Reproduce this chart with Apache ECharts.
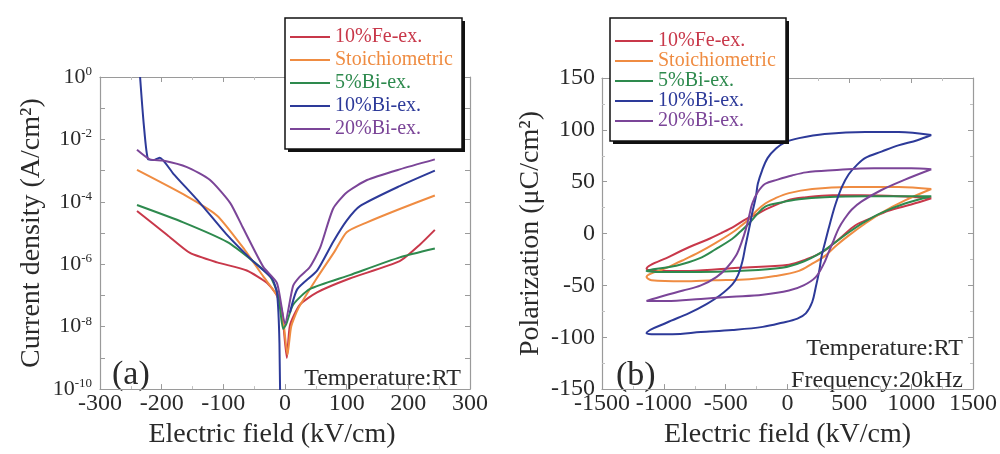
<!DOCTYPE html>
<html><head><meta charset="utf-8">
<script src="https://cdn.jsdelivr.net/npm/echarts@6/dist/echarts.min.js"></script>
<style>html,body{margin:0;padding:0;background:#fff}#c{width:1000px;height:454px}</style>
</head><body><div id="c"></div>
<script>
const seriesNames = ['10%Fe-ex.', 'Stoichiometric', '5%Bi-ex.', '10%Bi-ex.', '20%Bi-ex.'];
const colors = ['#c8384a', '#ef8c42', '#2e8a4e', '#2d3a99', '#7b4598'];

// ---- Panel (a): current density (A/cm^2) vs electric field (kV/cm) ----
const jxFe = [-240, -191, -154, -110, -62, -29, -13, -5, 3, 8, 24, 52, 105, 186, 219, 243];
const jyFe = [5.1e-5, 8.7e-6, 2.3e-6, 1.15e-6, 6.3e-7, 2.5e-7, 1.0e-7, 3.2e-8, 1.0e-9, 1.1e-8, 5.0e-8, 1.26e-7, 3.5e-7, 1.26e-6, 4.3e-6, 1.26e-5];
const jxSt = [-240, -159, -110, -68, -35, -13, -4, 4, 10, 22, 50, 80, 100, 133, 186, 243];
const jySt = [1.05e-3, 1.5e-4, 3.6e-5, 3.4e-6, 4.0e-7, 1.0e-7, 2.5e-8, 1.26e-9, 1.0e-8, 4.0e-8, 3.2e-7, 2.5e-6, 1.07e-5, 2.2e-5, 5.9e-5, 1.6e-4];
const jxBi5 = [-240, -165, -94, -52, -24, -11, -3, 2, 13, 40, 105, 186, 243];
const jyBi5 = [7.9e-5, 2.2e-5, 5.2e-6, 1.26e-6, 4.0e-7, 1.0e-7, 8.5e-9, 1.2e-8, 5.0e-8, 1.6e-7, 4.5e-7, 1.66e-6, 3.2e-6];
const jxBi10 = [-235, -229, -222, -212, -203, -181, -138, -94, -52, -21, -13, -9, -7, null, 8, 20, 52, 78, 100, 122, 186, 243];
const jyBi10 = [1.0, 0.03, 2.3e-3, 2.2e-3, 2.6e-3, 7.9e-4, 9.3e-5, 8.7e-6, 1.26e-6, 3.5e-7, 1.2e-7, 3.0e-9, 1.0e-12, null, 2.8e-8, 1.6e-7, 6.3e-7, 5.2e-6, 2.5e-5, 7.4e-5, 3.2e-4, 1.0e-3];
const jxBi20 = [-240, -219, -198, -159, -122, -89, -68, -35, -13, 0, 13, 24, 40, 57, 78, 100, 133, 186, 243];
const jyBi20 = [4.7e-3, 2.3e-3, 2.1e-3, 1.3e-3, 5.1e-4, 9.3e-5, 1.45e-5, 8.1e-7, 2.5e-7, 1.26e-8, 2.0e-7, 4.0e-7, 8.0e-7, 3.4e-6, 6.0e-5, 2.0e-4, 5.0e-4, 1.1e-3, 2.3e-3];

// ---- Panel (b): polarization (uC/cm^2) vs electric field (kV/cm) ----
const pxFe = [1163, 900, 600, 363, 150, 0, -180, -260, -335, -430, -527, -650, -793, -950, -1140, -1050, -793, -400, 12, 150, 281, 420, 550, 680, 816, 1000, 1163];
const pyFe = [34, 36, 37, 37, 35, 32, 23, 18, 14, 7, 1, -6, -13, -22, -34, -36, -36, -33, -30, -25, -18, -5, 8, 15, 22, 28, 34];
const pxSt = [1163, 900, 500, 200, 12, -100, -180, -250, -310, -380, -446, -580, -713, -850, -978, -1140, -1100, -845, -600, -310, -100, 93, 200, 309, 400, 494, 620, 760, 950, 1163];
const pySt = [43, 45, 45, 43, 39, 34, 29, 22, 14, 7, 1, -9, -18, -26, -33, -42, -45, -46, -45, -44, -41, -36, -29, -21, -11, -2, 9, 20, 32, 43];
const pxBi5 = [1163, 900, 630, 300, 93, -50, -180, -250, -310, -380, -446, -580, -713, -900, -1140, -1000, -713, -400, -44, 130, 277, 380, 494, 620, 760, 950, 1163];
const pyBi5 = [36, 36, 36, 35, 33, 30, 26, 18, 10, 2, -5, -15, -24, -31, -36, -37, -37, -36, -33, -27, -18, -9, 1, 11, 20, 29, 36];
const pxBi10 = [1163, 900, 630, 300, 93, -20, -93, -160, -205, -240, -255, -285, -310, -340, -365, -400, -446, -550, -655, -800, -978, -1140, -1100, -930, -700, -446, -200, -44, 80, 148, 200, 228, 255, 277, 305, 333, 360, 390, 440, 494, 560, 630, 760, 896, 1050, 1163];
const pyBi10 = [95, 98, 98, 96, 92, 88, 82, 73, 61, 48, 36, 20, 5, -12, -27, -40, -49, -60, -68, -77, -86, -96, -97, -97, -95, -93, -90, -86, -82, -77, -66, -52, -37, -21, -8, 5, 17, 29, 45, 57, 66, 73, 79, 85, 90, 95];
const pxBi20 = [1163, 1000, 700, 363, 150, 36, -80, -180, -240, -285, -310, -335, -370, -415, -490, -575, -700, -845, -1000, -1140, -978, -700, -446, -200, 12, 130, 228, 290, 333, 375, 414, 460, 518, 600, 760, 950, 1163];
const pyBi20 = [62, 63, 63, 61, 59, 56, 52, 48, 40, 29, 17, 5, -8, -21, -33, -42, -50, -55, -60, -65, -65, -63, -61, -59, -55, -50, -42, -30, -18, -6, 5, 14, 23, 31, 42, 52, 62];

const xTicksA = [-300, 300, 100];   // min, max, interval
const xTicksB = [-1500, 1500, 500];
const yTicksB = [-150, 150, 50];
const yLogA = [1e-10, 1];

const FONT = '"Liberation Serif", "DejaVu Serif", serif';
const TXT = '#2a2a2a';
const FRAME = '#9a9a9a';

function pairs(xs, ys) {
  return xs.map((x, i) => (x === null || ys[i] === null) ? ['-', '-'] : [x, ys[i]]);
}

const jSets = [[jxFe, jyFe], [jxSt, jySt], [jxBi5, jyBi5], [jxBi10, jyBi10], [jxBi20, jyBi20]];
const pSets = [[pxFe, pyFe], [pxSt, pySt], [pxBi5, pyBi5], [pxBi10, pyBi10], [pxBi20, pyBi20]];

const series = [];
jSets.forEach((s, i) => series.push({
  name: seriesNames[i], type: 'line', xAxisIndex: 0, yAxisIndex: 0,
  data: pairs(s[0], s[1]), showSymbol: false, symbol: 'none', smooth: 0.2,
  lineStyle: { color: colors[i], width: 2 }, itemStyle: { color: colors[i] }, z: 2
}));
pSets.forEach((s, i) => series.push({
  name: seriesNames[i], type: 'line', xAxisIndex: 1, yAxisIndex: 1,
  data: pairs(s[0], s[1]), showSymbol: false, symbol: 'none', smooth: 0.35,
  lineStyle: { color: colors[i], width: 2 }, itemStyle: { color: colors[i] }, z: 2
}));

function valAxis(gridIndex, t, pos, showLabel, extra) {
  return Object.assign({
    type: 'value', gridIndex, position: pos, min: t[0], max: t[1], interval: t[2],
    axisLine: { show: true, onZero: false, lineStyle: { color: FRAME, width: 1.2 } },
    axisTick: { show: true, inside: true, length: 5, lineStyle: { color: FRAME } },
    minorTick: { show: true, splitNumber: 2, length: 3, lineStyle: { color: '#c0c0c0' } },
    splitLine: { show: false },
    axisLabel: { show: showLabel, fontFamily: FONT, fontSize: 24, color: TXT, margin: 3,
      formatter: function (v) { return String(v); } }
  }, extra || {});
}

function logAxis(pos, showLabel, extra) {
  return Object.assign({
    type: 'log', logBase: 10, gridIndex: 0, position: pos, min: yLogA[0], max: yLogA[1], interval: 1,
    axisLine: { show: true, onZero: false, lineStyle: { color: FRAME, width: 1.2 } },
    axisTick: { show: true, inside: true, length: 5, lineStyle: { color: FRAME } },
    splitLine: { show: false },
    axisLabel: {
      show: showLabel, margin: 8, color: TXT,
      formatter: function (v) {
        const e = Math.round(Math.log10(v));
        if (e % 2 !== 0) return '';
        return '{b|10}{s|' + e + '}';
      },
      rich: {
        b: { fontFamily: FONT, fontSize: 22, color: TXT },
        s: { fontFamily: FONT, fontSize: 13, color: TXT, padding: [0, 0, 11, 0] }
      }
    }
  }, extra || {});
}

const nameStyleA = { fontFamily: FONT, fontSize: 28, color: TXT };

const option = {
  animation: false,
  backgroundColor: '#fff',
  grid: [
    { left: 100, top: 77, width: 370, height: 322, show: false },
    { left: 602, top: 78, width: 373, height: 320, show: false }
  ],
  xAxis: [
    valAxis(0, xTicksA, 'bottom', true, { name: 'Electric field (kV/cm)', nameLocation: 'middle', nameGap: 22,
      nameTextStyle: Object.assign({ padding: [0, 26, 0, 0] }, nameStyleA) }),
    valAxis(1, xTicksB, 'bottom', true, { name: 'Electric field (kV/cm)', nameLocation: 'middle', nameGap: 22,
      nameTextStyle: nameStyleA }),
    valAxis(0, xTicksA, 'top', false),
    valAxis(1, xTicksB, 'top', false)
  ],
  yAxis: [
    logAxis('left', true, { name: 'Current density (A/cm²)', nameLocation: 'middle', nameGap: 54, nameTextStyle: nameStyleA }),
    valAxis(1, yTicksB, 'left', true, { name: 'Polarization (μC/cm²)', nameLocation: 'middle', nameGap: 57, nameTextStyle: nameStyleA,
      axisLabel: { show: true, fontFamily: FONT, fontSize: 24, color: TXT, margin: 7 } }),
    logAxis('right', false),
    valAxis(1, yTicksB, 'right', false)
  ],
  legend: [
    {
      left: 290, top: 27, orient: 'vertical', icon: 'rect', itemWidth: 40, itemHeight: 2, itemGap: 3, padding: 0,
      data: seriesNames.map((n, i) => ({ name: n, textStyle: { color: colors[i] } })),
      textStyle: { fontFamily: FONT, fontSize: 20, lineHeight: 20 }, z: 6
    },
    {
      left: 615, top: 31, orient: 'vertical', icon: 'rect', itemWidth: 38, itemHeight: 2, itemGap: 0, padding: 0,
      data: seriesNames.map((n, i) => ({ name: n, textStyle: { color: colors[i] } })),
      textStyle: { fontFamily: FONT, fontSize: 20, lineHeight: 19 }, z: 6
    }
  ],
  graphic: [
    { type: 'rect', z: 4, shape: { x: 288, y: 21, width: 177, height: 131 }, style: { fill: '#111' } },
    { type: 'rect', z: 5, shape: { x: 285, y: 18, width: 177, height: 131 },
      style: { fill: '#fff', stroke: '#111', lineWidth: 1.5 } },
    { type: 'rect', z: 4, shape: { x: 613, y: 21, width: 176, height: 123 }, style: { fill: '#111' } },
    { type: 'rect', z: 5, shape: { x: 610, y: 18, width: 176, height: 123 },
      style: { fill: '#fff', stroke: '#111', lineWidth: 1.5 } },
    { type: 'text', left: 112, top: 358, style: { text: '(a)', font: '34px ' + FONT, fill: TXT } },
    { type: 'text', right: 1000 - 461, top: 367, style: { text: 'Temperature:RT', font: '24px ' + FONT, fill: TXT } },
    { type: 'text', left: 616, top: 359, style: { text: '(b)', font: '34px ' + FONT, fill: TXT } },
    { type: 'text', right: 1000 - 963, top: 337, style: { text: 'Temperature:RT', font: '24px ' + FONT, fill: TXT } },
    { type: 'text', right: 1000 - 963, top: 369, style: { text: 'Frequency:20kHz', font: '24px ' + FONT, fill: TXT } }
  ],
  series
};

const chart = echarts.init(document.getElementById('c'), null, { renderer: 'canvas' });
chart.setOption(option);
</script>
</body></html>
